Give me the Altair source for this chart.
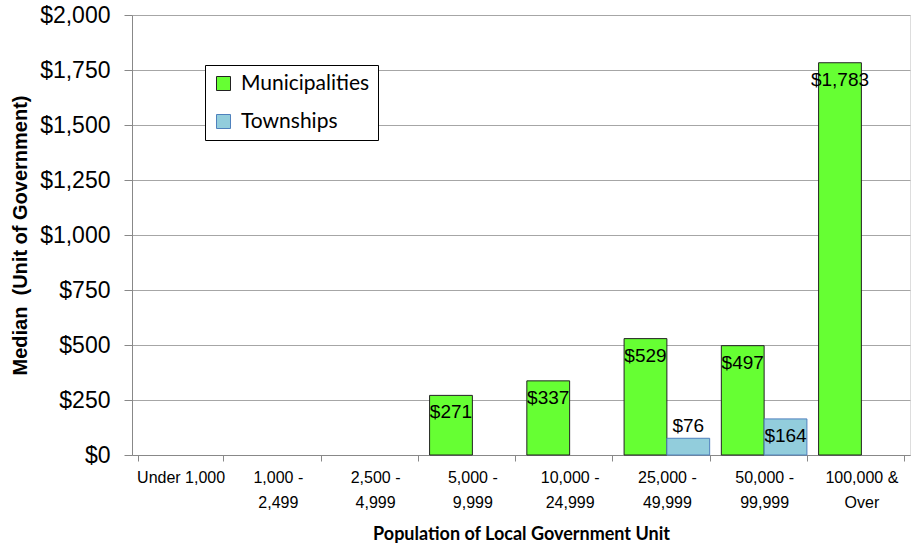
import altair as alt
import pandas as pd

categories = ["Under 1,000", "1,000 -\n2,499", "2,500 -\n4,999", "5,000 -\n9,999",
              "10,000 -\n24,999", "25,000 -\n49,999", "50,000 -\n99,999", "100,000 &\nOver"]
series_names = ["Municipalities", "Townships"]
municipalities = [None, None, None, 271, 337, 529, 497, 1783]
townships = [None, None, None, None, None, 76, 164, None]

rows = []
for cat, m, t in zip(categories, municipalities, townships):
    if m is not None:
        rows.append({"category": cat, "series": "Municipalities", "value": m})
    if t is not None:
        rows.append({"category": cat, "series": "Townships", "value": t})
df = pd.DataFrame(rows)

arial = "Liberation Sans, Arial, sans-serif"
calibri = "Lato, Carlito, Calibri, sans-serif"

x_enc = alt.X("category:N", sort=categories,
              scale=alt.Scale(domain=categories, paddingInner=0.12, paddingOuter=0.06),
              axis=alt.Axis(title="Population of Local Government Unit",
                            labelExpr="split(datum.label, '\\n')",
                            labelAngle=0, labelFont=arial, labelFontSize=16, labelColor="#000",
                            labelPadding=8, labelLineHeight=25,
                            tickBand="extent", tickSize=6, tickColor="#888", domainColor="#888",
                            titleFont=calibri, titleFontSize=18, titleFontWeight="bold",
                            titleColor="#000", titlePadding=15))
xoff = alt.XOffset("series:N", scale=alt.Scale(domain=series_names, paddingInner=0, paddingOuter=0))
y_enc = alt.Y("value:Q", scale=alt.Scale(domain=[0, 2000], nice=False),
              axis=alt.Axis(title="Median\u00a0 (Unit of Government)", values=list(range(0, 2001, 250)),
                            format="$,d", labelFont=arial, labelFontSize=23, labelColor="#000",
                            labelPadding=14, tickSize=8, tickColor="#888", domainColor="#888",
                            gridColor="#A6A6A6", titleFont=arial, titleFontSize=20,
                            titleFontWeight="bold", titleColor="#000", titlePadding=9))

legend = alt.Legend(title=None, orient="none", legendX=73, legendY=50, fillColor="white",
                    strokeColor="#000", padding=8, symbolType="square", symbolSize=196,
                    symbolStrokeWidth=1, labelFont=calibri, labelFontSize=21, labelColor="#000",
                    rowPadding=16, labelOffset=7)

base = alt.Chart(df)
bars = base.mark_bar(strokeWidth=1).encode(
    x=x_enc, xOffset=xoff, y=y_enc,
    color=alt.Color("series:N", scale=alt.Scale(domain=series_names, range=["#66FF33", "#92CDDC"]),
                    legend=legend),
    stroke=alt.Stroke("series:N", scale=alt.Scale(domain=series_names, range=["#222222", "#4F81BD"]),
                      legend=legend),
)
lab_in = base.transform_filter("datum.value >= 100").mark_text(
    baseline="top", dy=8, font=arial, fontSize=19, color="#000").encode(
    x=alt.X("category:N", sort=categories), xOffset=alt.XOffset("series:N"), y="value:Q",
    text=alt.Text("value:Q", format="$,d"))
lab_out = base.transform_filter("datum.value < 100").mark_text(
    baseline="alphabetic", dy=-6, font=arial, fontSize=19, color="#000").encode(
    x=alt.X("category:N", sort=categories), xOffset=alt.XOffset("series:N"), y="value:Q",
    text=alt.Text("value:Q", format="$,d"))

chart = alt.layer(bars, lab_in, lab_out).properties(
    width=778, height=440,
    autosize=alt.AutoSizeParams(type="none"),
    padding={"left": 132, "top": 15, "right": 5, "bottom": 95},
).configure_view(stroke=None).configure(background="white")

chart.save("out.html", embed_options={"renderer": "svg", "actions": False})
